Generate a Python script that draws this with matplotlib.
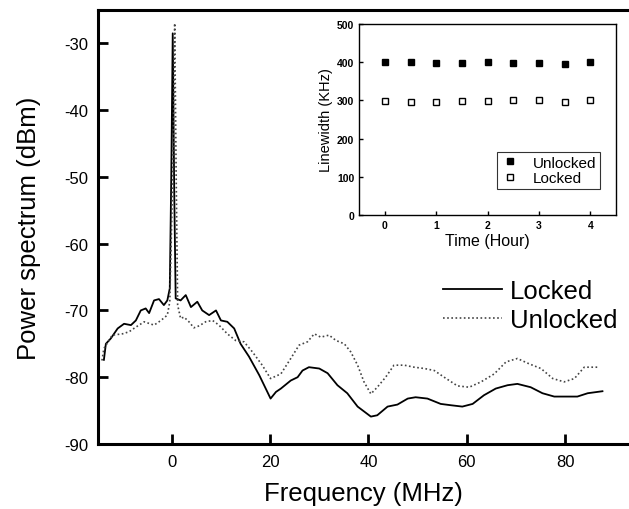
import matplotlib
matplotlib.use("Agg")
import matplotlib.pyplot as plt

plt.rcParams['font.family'] = ['Liberation Sans', 'DejaVu Sans']
plt.rcParams['axes.unicode_minus'] = False

# ---- main spectrum data ----
locked_f = [-13.8, -13.4, -12.4, -11.0, -9.7, -8.3, -7.3, -6.3, -5.3, -4.6, -3.6, -2.6, -1.6, -0.9, -0.4,
            -0.1, 0.2, 0.5, 0.8, 1.8, 2.85, 3.9, 5.2, 6.2, 7.6, 9.0, 10.0, 11.3, 12.7, 14.0, 15.7, 17.8,
            20.1, 21.2, 22.2, 24.2, 25.6, 26.6, 27.9, 30.0, 31.7, 33.7, 35.7, 37.8, 40.5, 41.8, 43.9,
            45.9, 48.0, 49.6, 52.0, 54.7, 56.8, 59.1, 61.2, 63.5, 65.9, 68.3, 70.3, 73.0, 75.4, 77.8,
            80.5, 82.5, 84.6, 87.6]
locked_db = [-77.4, -75.0, -74.2, -72.7, -72.0, -72.2, -71.5, -70.0, -69.7, -70.4, -68.5, -68.3, -69.2, -68.5, -66.7,
             -50.0, -28.5, -52.0, -68.2, -68.5, -67.7, -69.5, -68.7, -70.0, -70.7, -70.0, -71.5, -71.7, -72.7, -75.0, -76.9, -79.7,
             -83.2, -82.2, -81.7, -80.5, -80.0, -79.0, -78.5, -78.7, -79.4, -81.2, -82.4, -84.4, -85.9, -85.7, -84.4,
             -84.1, -83.2, -83.0, -83.2, -84.0, -84.2, -84.4, -84.0, -82.7, -81.7, -81.2, -81.0, -81.5, -82.4, -82.9,
             -82.9, -82.9, -82.4, -82.1]

unlocked_f = [-14.2, -13.8, -12.1, -10.0, -8.7, -7.3, -5.6, -3.6, -2.2, -0.9, -0.4, 0.2, 0.6, 0.9, 1.2, 1.8,
              2.5, 3.5, 4.5, 5.6, 6.9, 8.3, 9.6, 11.3, 13.0, 14.7, 16.4, 18.4, 20.1, 22.2, 24.2, 25.9, 27.6,
              29.0, 30.3, 32.0, 33.4, 35.1, 36.4, 37.8, 39.1, 40.5, 41.8, 43.5, 45.2, 47.3, 49.3, 51.4, 53.4,
              55.4, 58.1, 60.5, 62.9, 65.6, 68.0, 70.3, 72.7, 75.1, 77.5, 79.8, 81.9, 83.9, 86.6]
unlocked_db = [-77.5, -75.7, -73.7, -73.5, -73.2, -72.5, -71.7, -72.2, -71.5, -70.7, -68.7, -50.0, -27.0, -50.0, -69.2, -71.2,
               -71.0, -71.7, -72.6, -72.3, -71.7, -71.5, -72.2, -73.5, -74.5, -74.7, -76.2, -78.2, -80.2, -79.5, -77.2, -75.2, -74.7,
               -73.5, -74.0, -73.7, -74.5, -75.0, -76.2, -78.2, -80.7, -82.5, -81.5, -80.0, -78.2, -78.2, -78.5, -78.7, -79.0,
               -80.0, -81.3, -81.5, -80.7, -79.5, -77.7, -77.2, -78.0, -78.7, -80.2, -80.7, -80.2, -78.5, -78.5]

main_xticks = [0, 20, 40, 60, 80]
main_yticks = [-90, -80, -70, -60, -50, -40, -30]

# ---- inset data ----
hours = [0, 0.5, 1, 1.5, 2, 2.5, 3, 3.5, 4]
lw_unlocked = [400, 400, 398, 398, 400, 398, 398, 396, 400]
lw_locked = [298, 296, 297, 298, 298, 300, 300, 297, 300]

fig = plt.figure(figsize=(6.29, 5.10), dpi=100)
ax = fig.add_axes([0.1558, 0.1275, 0.8442, 0.851])
l1, = ax.plot(locked_f, locked_db, color='black', lw=1.3, label='Locked')
l2, = ax.plot(unlocked_f, unlocked_db, color='#444444', lw=1.2, ls=(0, (1, 1.5)), label='Unlocked')
ax.set_xlim(-15, 93)
ax.set_ylim(-90, -25)
ax.set_xticks(main_xticks)
ax.set_yticks(main_yticks)
for s in ['left', 'bottom', 'top']:
    ax.spines[s].set_linewidth(2.2)
ax.spines['right'].set_visible(False)
ax.tick_params(direction='in', length=7, width=2, labelsize=12, pad=7)
ax.set_xlabel('Frequency (MHz)', fontsize=18.5, labelpad=9)
ax.set_ylabel('Power spectrum (dBm)', fontsize=18.5, labelpad=17)
fig.legend(handles=[l1, l2], loc='upper left', bbox_to_anchor=(0.668, 0.497),
           frameon=False, fontsize=18.5, handlelength=2.3, handletextpad=0.3, labelspacing=0.22)

# ---- inset ----
ins = fig.add_axes([0.571, 0.5765, 0.4086, 0.3745])
ins.plot(hours, lw_unlocked, ls='none', marker='s', ms=4.5, color='black', label='Unlocked')
ins.plot(hours, lw_locked, ls='none', marker='s', ms=4, mfc='white', mec='black', mew=1, label='Locked')
ins.set_xlim(-0.5, 4.5)
ins.set_ylim(0, 500)
ins.set_xticks([0, 1, 2, 3, 4])
ins.set_yticks([0, 100, 200, 300, 400, 500])
ins.tick_params(direction='in', length=3, width=1, labelsize=7.5)
for lab in ins.get_xticklabels() + ins.get_yticklabels():
    lab.set_fontweight('bold')
for s in ins.spines.values():
    s.set_linewidth(1)
ins.set_xlabel('Time (Hour)', fontsize=11.5, labelpad=2)
ins.set_ylabel('Linewidth (KHz)', fontsize=10.5, labelpad=3)
il = ins.legend(loc='lower right', bbox_to_anchor=(0.938, 0.136), fontsize=11, frameon=True,
                fancybox=False, edgecolor='black', handletextpad=0.9, handlelength=1.2,
                borderpad=0.25, labelspacing=0.1, borderaxespad=0)
il.get_frame().set_linewidth(0.8)

fig.savefig('out.png', dpi=100)
